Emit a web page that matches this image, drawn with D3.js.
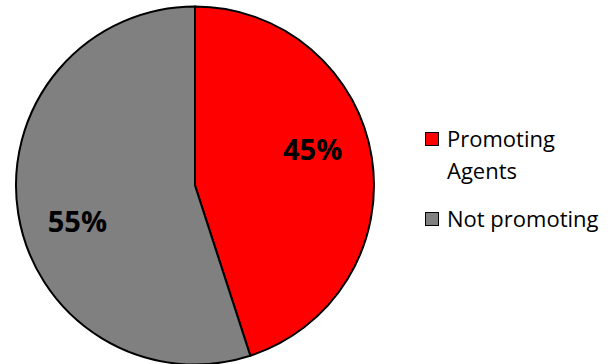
<!DOCTYPE html>
<html>
<head>
<meta charset="utf-8">
<script src="https://cdn.jsdelivr.net/npm/d3@7"></script>
<style>
  html, body { margin: 0; padding: 0; background: #fff; }
  svg { display: block; }
</style>
</head>
<body>
<svg id="chart" width="610" height="364"></svg>
<script>
// Share of agents promoting vs. not promoting
const categories = ["Promoting Agents", "Not promoting"];
const legendLines = [["Promoting", "Agents"], ["Not promoting"]];
const values = [45, 55];
const colors = ["#ff0000", "#808080"];

const width = 610, height = 364;
const cx = 195, cy = 185.5, radius = 179;

const svg = d3.select("#chart");
const g = svg.append("g").attr("transform", `translate(${cx},${cy})`);

const pie = d3.pie().sort(null).value(d => d)(values);
const arc = d3.arc().innerRadius(0).outerRadius(radius);

g.selectAll("path.slice")
  .data(pie)
  .join("path")
  .attr("class", "slice")
  .attr("d", arc)
  .attr("fill", (d, i) => colors[i])
  .attr("stroke", "#000")
  .attr("stroke-width", 2)
  .attr("stroke-linejoin", "round");

// Percentage labels, placed slightly before each slice's bisector
const labelR = 123, labelShift = -8 * Math.PI / 180;
g.selectAll("text.pct")
  .data(pie)
  .join("text")
  .attr("class", "pct")
  .each(function (d) {
    const a = (d.startAngle + d.endAngle) / 2 + labelShift;
    d3.select(this)
      .attr("x", labelR * Math.sin(a))
      .attr("y", -labelR * Math.cos(a))
  })
  .attr("dy", "0.36em")
  .attr("text-anchor", "middle")
  .attr("font-family", "'Open Sans', sans-serif")
  .attr("font-weight", "bold")
  .attr("font-size", 29)
  .attr("fill", "#000")
  .text(d => d.data + "%");

// Legend
const legend = svg.append("g").attr("font-family", "'Open Sans', sans-serif").attr("font-size", 22);
const legendY = [139, 219];
categories.forEach((c, i) => {
  const row = legend.append("g").attr("transform", `translate(425,${legendY[i]})`);
  row.append("rect")
    .attr("x", 0.5).attr("y", -6.5)
    .attr("width", 13).attr("height", 13)
    .attr("fill", colors[i])
    .attr("stroke", "#000")
    .attr("stroke-width", 1);
  const t = row.append("text").attr("x", 22).attr("y", 0).attr("fill", "#000");
  legendLines[i].forEach((line, j) => {
    t.append("tspan").attr("x", 22).attr("y", j * 32).attr("dy", "0.35em").text(line);
  });
});
</script>
</body>
</html>
